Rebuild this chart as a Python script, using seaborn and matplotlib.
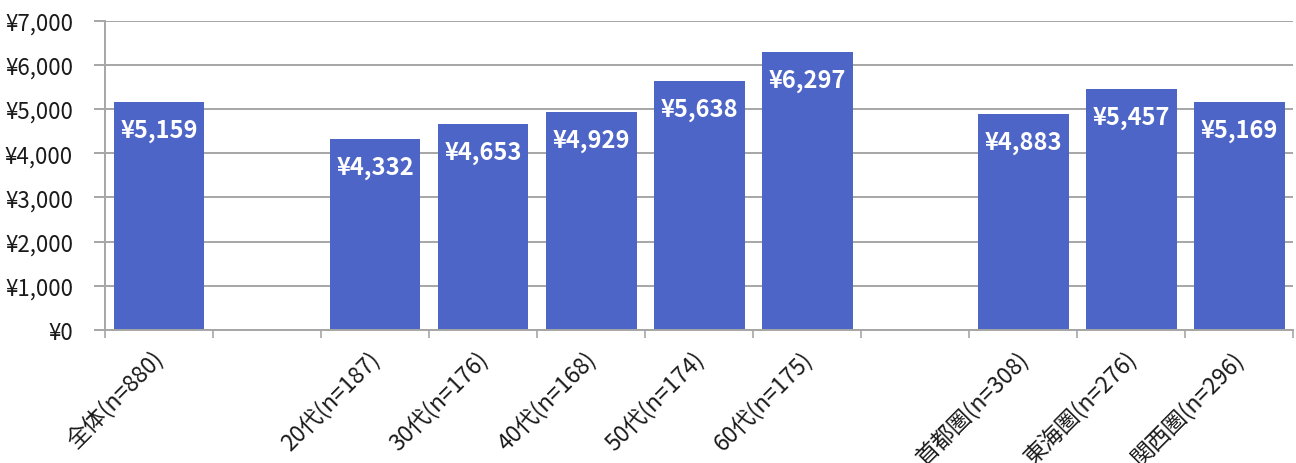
import numpy as np
import pandas as pd
import matplotlib
matplotlib.use('Agg')
import matplotlib.pyplot as plt
import seaborn as sns
from matplotlib.ticker import FuncFormatter, FixedLocator
from matplotlib.transforms import ScaledTranslation

categories = ['全体(n=880)', ' ', '20代(n=187)', '30代(n=176)', '40代(n=168)',
              '50代(n=174)', '60代(n=175)', '  ', '首都圏(n=308)', '東海圏(n=276)',
              '関西圏(n=296)']
values = [5159, np.nan, 4332, 4653, 4929, 5638, 6297, np.nan, 4883, 5457, 5169]
yticks = [0, 1000, 2000, 3000, 4000, 5000, 6000, 7000]

sns.set_theme(style='white')
plt.rcParams['font.family'] = ['Noto Sans CJK JP', 'DejaVu Sans']

df = pd.DataFrame({'cat': categories, 'val': values})

fig = plt.figure(figsize=(12.96, 4.64), dpi=100)
ax = fig.add_axes([0.081, 0.287, 0.917, 0.666])

bar_color = '#4E65C8'
sns.barplot(data=df.dropna(), x='cat', y='val', order=categories,
            color=bar_color, saturation=1, width=0.84, linewidth=0, ax=ax)

ax.set_ylim(0, 7000)
ax.set_xlim(-0.5, len(categories) - 0.5)
ax.yaxis.set_major_locator(FixedLocator(yticks))
ax.yaxis.set_major_formatter(FuncFormatter(lambda v, p: f'¥{int(v):,}'))
ax.grid(axis='y', color='#A6A6A6', linewidth=1.4)
ax.set_axisbelow(True)

for i, v in enumerate(values):
    if np.isnan(v):
        continue
    ax.annotate(f'¥{int(v):,}', (i, v), xytext=(0, -28), textcoords='offset pixels',
                ha='center', va='center', color='white', fontsize=17,
                fontweight='bold')

ax.set_xlabel('')
ax.set_ylabel('')
ax.set_xticks(range(len(categories)))
ax.set_xticks(np.arange(-0.5, len(categories)), minor=True)
ax.tick_params(axis='x', which='major', length=0, pad=12)
ax.tick_params(axis='x', which='minor', length=6, width=1.2, color='#A6A6A6',
               direction='out', bottom=True)
ax.tick_params(axis='y', length=8, width=1.4, color='#A6A6A6', direction='out',
               left=True, labelsize=16, labelcolor='#1a1a1a', pad=15)
ax.set_xticklabels(categories, rotation=45, ha='right', rotation_mode='anchor',
                   fontsize=16.5, color='#1a1a1a')
# nudge the rotated labels a little to the left, as in the original
shift = ScaledTranslation(-0.07, 0, fig.dpi_scale_trans)
for lab in ax.get_xticklabels():
    lab.set_transform(lab.get_transform() + shift)

for s in ['top', 'right']:
    ax.spines[s].set_visible(False)
for s in ['left', 'bottom']:
    ax.spines[s].set_color('#A6A6A6')
    ax.spines[s].set_linewidth(1.4)

fig.savefig('out.png', dpi=100)
